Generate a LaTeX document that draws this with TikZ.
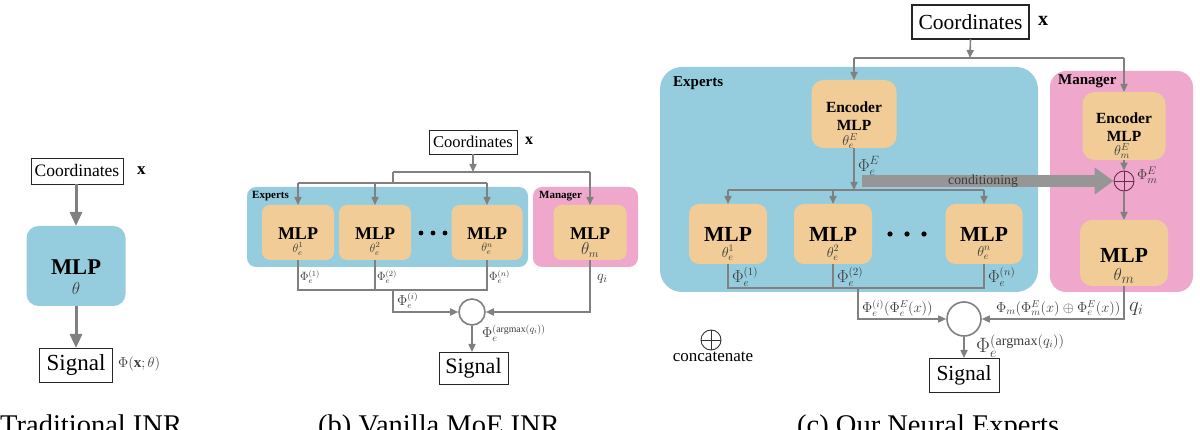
\documentclass[tikz,border=0pt]{standalone}
\usepackage{fontspec}
\setmainfont{Liberation Serif}
\usetikzlibrary{arrows.meta,calc}
\definecolor{bluec}{RGB}{150,205,222}
\definecolor{pinkc}{RGB}{240,167,204}
\definecolor{orc}{RGB}{241,204,150}
\definecolor{lgray}{RGB}{128,128,128}
\definecolor{cgray}{RGB}{150,150,150}
\definecolor{tgray}{RGB}{60,60,60}
\definecolor{catc}{RGB}{110,40,80}
\newcommand{\fs}[1]{\fontsize{#1}{#1}\selectfont}
\begin{document}
\begin{tikzpicture}[x=1pt,y=-1pt,
  every node/.style={inner sep=0pt},
  tbox/.style={draw=black!85, line width=0.9pt, fill=white, inner sep=0pt, outer sep=0pt},
  bluebox/.style={fill=bluec, inner sep=0pt, outer sep=0pt},
  pinkbox/.style={fill=pinkc, inner sep=0pt, outer sep=0pt},
  orbox/.style={fill=orc, inner sep=0pt, outer sep=0pt},
  lin/.style={draw=lgray, line width=1.6pt},
  arrA/.style={draw=lgray, line width=3pt, -{Triangle[length=14pt,width=12pt]}},
  arr/.style={lin, -{Triangle[length=8pt,width=7pt]}},
  lbl/.style={anchor=west, inner sep=0pt, text=tgray},
  catsym/.style={circle, draw=#1, line width=0.9pt, minimum size=20pt, inner sep=0pt,
     path picture={\draw[#1, line width=0.9pt] (path picture bounding box.north) -- (path picture bounding box.south)
       (path picture bounding box.west) -- (path picture bounding box.east);}},
  capt/.style={anchor=base west, inner sep=0pt, font=\fs{28.5}}
]
\useasboundingbox (0,0) rectangle (1200,430);

% ---------------- (a) ----------------
\node[tbox, minimum width=92pt, minimum height=26pt] (coA) at (77,171) {\fs{17.5}Coordinates};
\node[anchor=west] (xA) at (137,171) {\fs{17}$\mathbf{x}$};
\node[bluebox, rounded corners=12pt, minimum width=99pt, minimum height=80pt] (mlpA) at (76,266) {};
\node (mlpAt) at (76,267) {\fs{22.5}\bfseries MLP};
\node (thA) at (76,289) {\fs{17}\color{tgray}$\theta$};
\node[tbox, minimum width=73pt, minimum height=34pt] (sigA) at (76,365) {\fs{23}Signal};
\node[lbl] (phiA) at (118,364) {\fs{15}$\Phi(\mathbf{x};\theta)$};
\draw[arrA] (coA.south -| mlpA.north) -- (mlpA.north);
\draw[arrA] (mlpA.south) -- (sigA.north);
\node[capt] (capA) at (0,434) {Traditional INR};

% ---------------- (b) ----------------
\node[tbox, minimum width=88pt, minimum height=24pt] (coB) at (473,142) {\fs{16.5}Coordinates};
\node[anchor=west] (xB) at (525,141) {\fs{16}$\mathbf{x}$};
\node[bluebox, rounded corners=9pt, minimum width=281pt, minimum height=80pt, anchor=north west] (expB) at (247,187) {};
\node[pinkbox, rounded corners=9pt, minimum width=105pt, minimum height=80pt, anchor=north west] (manB) at (533,187) {};
\node[anchor=west, font=\fs{11}\bfseries] (expBl) at (252,196) {Experts};
\node[anchor=west, font=\fs{11}\bfseries] (manBl) at (539,196) {Manager};
\node[orbox, rounded corners=8pt, minimum width=72pt, minimum height=55pt] (b1) at (298,232.5) {};
\node[orbox, rounded corners=8pt, minimum width=72pt, minimum height=55pt] (b2) at (375,232.5) {};
\node[orbox, rounded corners=8pt, minimum width=71pt, minimum height=55pt] (bn) at (487,232.5) {};
\node[orbox, rounded corners=8pt, minimum width=73pt, minimum height=55pt] (bm) at (590,232.5) {};
\node (b1t) at (298,234) {\fs{18}\bfseries MLP};
\node (b2t) at (375,234) {\fs{18}\bfseries MLP};
\node (bnt) at (487,234) {\fs{18}\bfseries MLP};
\node (bmt) at (590,234) {\fs{18}\bfseries MLP};
\node (b1th) at (298,249) {\fs{12}\color{tgray}$\theta_e^1$};
\node (b2th) at (375,249) {\fs{12}\color{tgray}$\theta_e^2$};
\node (bnth) at (487,249) {\fs{12}\color{tgray}$\theta_e^n$};
\node (bmth) at (590,250) {\fs{16}\color{tgray}$\theta_m$};
\fill[black] (421,233) circle[radius=2.4pt] (433,233) circle[radius=2.4pt] (445,233) circle[radius=2.4pt];
% input lines
\coordinate (hB1l) at (393,172);
\coordinate (hB1r) at (590,172);
\coordinate (hB2c) at (393,183);
\draw[arr] (coB.south) -- (coB.south |- hB1l);
\draw[lin] (hB1l) -- (hB1r);
\draw[arr] (hB1r) -- (bm.north);
\draw[lin] (hB1l) -- (hB2c);
\draw[lin] (b1.north |- hB2c) -- (bn.north |- hB2c);
\draw[arr] (b1.north |- hB2c) -- (b1.north);
\draw[arr] (b2.north |- hB2c) -- (b2.north);
\draw[arr] (bn.north |- hB2c) -- (bn.north);
% output lines
\coordinate (oB) at (393,290);
\node[circle, draw=lgray, line width=1.6pt, minimum size=26pt, inner sep=0pt] (cB) at (472,312) {};
\draw[lin] (b1.south) -- (b1.south |- oB) -- (bn.south |- oB) -- (bn.south);
\draw[lin] (b2.south) -- (b2.south |- oB);
\draw[arr] (oB) -- (oB |- cB) -- (cB.west);
\draw[arr] (bm.south) -- (bm.south |- cB) -- (cB.east);
\node[tbox, minimum width=69pt, minimum height=32pt] (sigB) at (473.5,368) {\fs{22}Signal};
\draw[arr] (cB.south) -- (cB.south |- sigB.north);
\node[lbl] (pb1) at (300,277) {\fs{12}$\Phi_e^{(1)}$};
\node[lbl] (pb2) at (377,277) {\fs{12}$\Phi_e^{(2)}$};
\node[lbl] (pbn) at (489,277) {\fs{12}$\Phi_e^{(n)}$};
\node[lbl] (qB) at (597,279) {\fs{15}$q_i$};
\node[lbl] (pbi) at (397,301) {\fs{13.5}$\Phi_e^{(i)}$};
\node[lbl] (pba) at (482,333) {\fs{14}$\Phi_e^{(\mathrm{argmax}(q_i))}$};
\node[capt] (capB) at (318,434) {(b) Vanilla MoE INR};

% ---------------- (c) ----------------
\node[tbox, line width=1.2pt, minimum width=117pt, minimum height=34pt] (coC) at (970.5,22) {\fs{21.5}Coordinates};
\node[anchor=west] (xC) at (1038,21) {\fs{20}$\mathbf{x}$};
\node[bluebox, rounded corners=22pt, minimum width=378pt, minimum height=225pt, anchor=north west] (expC) at (660,67) {};
\node[pinkbox, rounded corners=16pt, minimum width=143pt, minimum height=221pt, anchor=north west] (manC) at (1050,71) {};
\node[anchor=west, font=\fs{15}\bfseries] (expCl) at (673,83) {Experts};
\node[anchor=west, font=\fs{15}\bfseries] (manCl) at (1058,81) {Manager};
% encoders
\node[orbox, rounded corners=12pt, minimum width=85pt, minimum height=68pt] (encE) at (854,114) {};
\node (encEt1) at (854,107) {\fs{15.5}\bfseries Encoder};
\node (encEt2) at (854,125) {\fs{15.5}\bfseries MLP};
\node (encEth) at (850,141) {\fs{14}\color{tgray}$\theta_e^E$};
\node[orbox, rounded corners=12pt, minimum width=83pt, minimum height=68pt] (encM) at (1124,126) {};
\node (encMt1) at (1124,118) {\fs{15.5}\bfseries Encoder};
\node (encMt2) at (1124,136) {\fs{15.5}\bfseries MLP};
\node (encMth) at (1122,151) {\fs{14}\color{tgray}$\theta_m^E$};
% expert MLPs
\node[orbox, rounded corners=10pt, minimum width=78pt, minimum height=60pt] (e1) at (728,234) {};
\node[orbox, rounded corners=10pt, minimum width=78pt, minimum height=60pt] (e2) at (833,234) {};
\node[orbox, rounded corners=10pt, minimum width=77pt, minimum height=60pt] (en) at (984,234) {};
\node (e1t) at (728,234) {\fs{21.5}\bfseries MLP};
\node (e2t) at (833,234) {\fs{21.5}\bfseries MLP};
\node (ent) at (984,234) {\fs{21.5}\bfseries MLP};
\node (e1th) at (728,253) {\fs{14}\color{tgray}$\theta_e^1$};
\node (e2th) at (833,253) {\fs{14}\color{tgray}$\theta_e^2$};
\node (enth) at (984,253) {\fs{14}\color{tgray}$\theta_e^n$};
\fill[black] (890,234) circle[radius=2.6pt] (907,234) circle[radius=2.6pt] (924,234) circle[radius=2.6pt];
% manager MLP
\node[orbox, rounded corners=12pt, minimum width=88pt, minimum height=66pt] (mlpm) at (1124,253) {};
\node (mlpmt) at (1124,255) {\fs{21.5}\bfseries MLP};
\node (mlpmth) at (1124,276) {\fs{19}\color{tgray}$\theta_m$};
% concat symbol
\node[catsym=catc] (cat) at (1124,181) {};
% input lines
\coordinate (hC) at (970,58);
\coordinate (hC2) at (854,190);
\draw[arr] (coC.south) -- (hC);
\draw[lin] (encE.north |- hC) -- (encM.north |- hC);
\draw[arr] (encE.north |- hC) -- (encE.north);
\draw[arr] (encM.north |- hC) -- (encM.north);
\draw[arr] (encE.south) -- (hC2);
\draw[lin] (e1.north |- hC2) -- (en.north |- hC2);
\draw[arr] (e1.north |- hC2) -- (e1.north);
\draw[arr] (e2.north |- hC2) -- (e2.north);
\draw[arr] (en.north |- hC2) -- (en.north);
\draw[arr] (encM.south) -- (cat.north);
\draw[arr] (cat.south) -- (mlpm.north);
% conditioning
\coordinate (condS) at (862,181);
\draw[draw=cgray, line width=12pt, -{Triangle[length=19pt,width=26pt]}] (condS) -- (cat.west);
\node (condt) at (983,181) {\fs{13.8}\color{tgray}conditioning};
% outputs
\coordinate (oC) at (858,288);
\node[circle, draw=lgray, line width=1.6pt, minimum size=34pt, inner sep=0pt] (cC) at (964,319) {};
\draw[lin] (e1.south) -- (e1.south |- oC) -- (en.south |- oC) -- (en.south);
\draw[lin] (e2.south) -- (e2.south |- oC);
\draw[arr] (oC) -- (oC |- cC) -- (cC.west);
\draw[arr] (mlpm.south) -- (mlpm.south |- cC) -- (cC.east);
\node[tbox, minimum width=70pt, minimum height=34pt] (sigC) at (964,375) {\fs{21.5}Signal};
\draw[arr] (cC.south) -- (sigC.north);
% labels
\node[lbl] (pEE) at (858,166) {\fs{17}$\Phi_e^E$};
\node[lbl] (pME) at (1137,175) {\fs{15}$\Phi_m^E$};
\node[lbl] (pc1) at (732,277) {\fs{16}$\Phi_e^{(1)}$};
\node[lbl] (pc2) at (837,277) {\fs{16}$\Phi_e^{(2)}$};
\node[lbl] (pcn) at (988,277) {\fs{16}$\Phi_e^{(n)}$};
\node[lbl] (pci) at (862,308) {\fs{14.5}$\Phi_e^{(i)}(\Phi_e^E(x))$};
\node[lbl] (pcm) at (996,308) {\fs{14.5}$\Phi_m\bigl(\Phi_m^E(x)\oplus\Phi_e^E(x)\bigr)$};
\node[lbl] (qC) at (1129,309) {\fs{20}$q_i$};
\node[lbl] (pca) at (976,346) {\fs{20}$\Phi_e^{(\mathrm{argmax}(q_i))}$};
% legend
\node[catsym=black!80] (catL) at (711,340) {};
\node (catLt) at (713,357) {\fs{17}concatenate};
\node[capt] (capC) at (797,434) {(c) Our Neural Experts};
\end{tikzpicture}
\end{document}
